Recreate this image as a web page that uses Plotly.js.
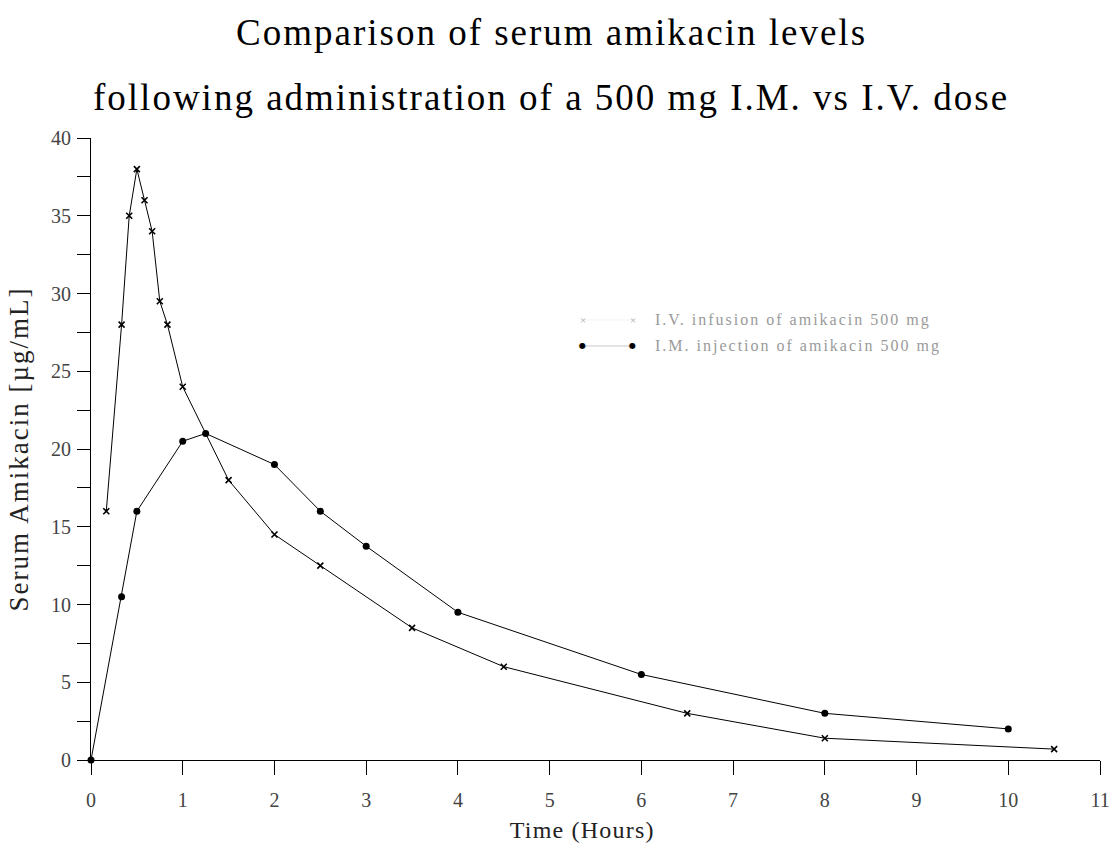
<!DOCTYPE html>
<html>
<head>
<meta charset="utf-8">
<script src="https://cdn.plot.ly/plotly-3.0.1.min.js"></script>
<style>
html,body{margin:0;padding:0;background:#fff;}
#chart{width:1112px;height:850px;}
#chart .g-ytitle text{letter-spacing:2px;}
</style>
</head>
<body>
<div id="chart"></div>
<script>
// IV infusion data
const ivTime = [1/6, 1/3, 5/12, 0.5, 7/12, 2/3, 0.75, 5/6, 1, 1.5, 2, 2.5, 3.5, 4.5, 6.5, 8, 10.5];
const ivLevel = [16, 28, 35, 38, 36, 34, 29.5, 28, 24, 18, 14.5, 12.5, 8.5, 6, 3, 1.4, 0.7];
// IM injection data
const imTime = [0, 1/3, 0.5, 1, 1.25, 2, 2.5, 3, 4, 6, 8, 10];
const imLevel = [0, 10.5, 16, 20.5, 21, 19, 16, 13.75, 9.5, 5.5, 3, 2];

const xTicks = [0,1,2,3,4,5,6,7,8,9,10,11];
const yTicks = [0,5,10,15,20,25,30,35,40];

const titleLines = ['Comparison of serum amikacin levels', 'following administration of a 500 mg I.M. vs I.V. dose'];
const seriesNames = ['I.V. infusion of amikacin 500 mg', 'I.M. injection of amikacin 500 mg'];
const xTitle = 'Time (Hours)';
const yTitle = 'Serum Amikacin [µg/mL]';

const FONT = 'Liberation Serif, Times New Roman, serif';

const traces = [
  {x: ivTime, y: ivLevel, mode: 'lines+markers', name: seriesNames[0],
   line: {color: '#000', width: 1}, cliponaxis: false,
   marker: {symbol: 'x-thin', size: 6, color: '#000', line: {width: 1.6, color: '#000'}}},
  {x: imTime, y: imLevel, mode: 'lines+markers', name: seriesNames[1],
   line: {color: '#000', width: 1}, cliponaxis: false,
   marker: {symbol: 'circle', size: 7, color: '#000'}}
];

// custom legend (paper coordinates)
const legX0 = 0.4876, legX1 = 0.537, legTx = 0.557;
const legY1 = 0.7074, legY2 = 0.6656;
const shapes = [
  {type:'line', xref:'paper', yref:'paper', x0:legX0, x1:legX1, y0:legY1, y1:legY1, line:{color:'#f2f2f2', width:1}},
  {type:'line', xref:'paper', yref:'paper', x0:legX0, x1:legX1, y0:legY2, y1:legY2, line:{color:'#c8c8c8', width:1}}
];
// letter spacing (px) applied after render, per annotation index
const spacing = {4: 2, 5: 2, 6: 2, 7: 2, 8: 1.2};
const annotations = [
  {xref:'paper', yref:'paper', x:legX0, y:legY1, text:'×', showarrow:false, font:{family:FONT, size:11, color:'#aaa'}, xanchor:'center', yanchor:'middle'},
  {xref:'paper', yref:'paper', x:legX1, y:legY1, text:'×', showarrow:false, font:{family:FONT, size:11, color:'#aaa'}, xanchor:'center', yanchor:'middle'},
  {xref:'paper', yref:'paper', x:legX0, y:legY2, text:'●', showarrow:false, font:{family:'DejaVu Sans', size:8, color:'#000'}, xanchor:'center', yanchor:'middle'},
  {xref:'paper', yref:'paper', x:legX1, y:legY2, text:'●', showarrow:false, font:{family:'DejaVu Sans', size:8, color:'#000'}, xanchor:'center', yanchor:'middle'},
  {xref:'paper', yref:'paper', x:legTx, y:legY1, text:seriesNames[0], showarrow:false, font:{family:FONT, size:16, color:'#9a9a9a'}, xanchor:'left', yanchor:'middle'},
  {xref:'paper', yref:'paper', x:legTx, y:legY2, text:seriesNames[1], showarrow:false, font:{family:FONT, size:16, color:'#9a9a9a'}, xanchor:'left', yanchor:'middle'},
  {xref:'paper', yref:'paper', x:0.4559, y:1.1696, text:titleLines[0], showarrow:false, font:{family:FONT, size:37, color:'#000'}, xanchor:'center', yanchor:'middle'},
  {xref:'paper', yref:'paper', x:0.4559, y:1.0651, text:titleLines[1], showarrow:false, font:{family:FONT, size:37, color:'#000'}, xanchor:'center', yanchor:'middle'},
  {xref:'paper', yref:'paper', x:0.4866, y:-0.1125, text:xTitle, showarrow:false, font:{family:FONT, size:24, color:'#222'}, xanchor:'center', yanchor:'middle'}
];

const layout = {
  width: 1112, height: 850,
  margin: {l: 91, r: 12, t: 138, b: 90},
  paper_bgcolor: '#fff', plot_bgcolor: '#fff',
  showlegend: false,
  font: {family: FONT, color: '#000'},
  xaxis: {range: [0, 11], tickvals: xTicks, ticktext: xTicks.map(String),
          showgrid: false, zeroline: false, showline: true, linecolor: '#000', linewidth: 1,
          ticks: 'outside', ticklen: 14, tickcolor: '#000', tickwidth: 1, ticklabelstandoff: 8,
          tickfont: {family: FONT, size: 20, color: '#444'}},
  yaxis: {range: [0, 40], tickvals: yTicks, ticktext: yTicks.map(String),
          showgrid: false, zeroline: false, showline: true, linecolor: '#000', linewidth: 1,
          ticks: 'outside', ticklen: 13, tickcolor: '#000', tickwidth: 1, ticklabelstandoff: 2,
          minor: {dtick: 2.5, ticks: 'outside', ticklen: 13, tickcolor: '#000', showgrid: false},
          tickfont: {family: FONT, size: 20, color: '#444'},
          title: {text: yTitle, font: {family: FONT, size: 27, color: '#222'}, standoff: 14}},
  shapes: shapes,
  annotations: annotations
};

Plotly.newPlot('chart', traces, layout, {displayModeBar: false, staticPlot: true}).then(function () {
  document.querySelectorAll('#chart g.annotation').forEach(function (g) {
    const idx = +g.getAttribute('data-index');
    if (!(idx in spacing)) return;
    const t = g.querySelector('text.annotation-text');
    if (!t) return;
    const before = t.getBoundingClientRect();
    t.style.letterSpacing = spacing[idx] + 'px';
    const after = t.getBoundingClientRect();
    const anchor = annotations[idx].xanchor;
    let dx;
    if (anchor === 'left') dx = before.left - after.left;
    else dx = (before.left + before.right) / 2 - (after.left + after.right) / 2;
    t.setAttribute('transform', 'translate(' + dx + ',0)');
  });
});
</script>
</body>
</html>
